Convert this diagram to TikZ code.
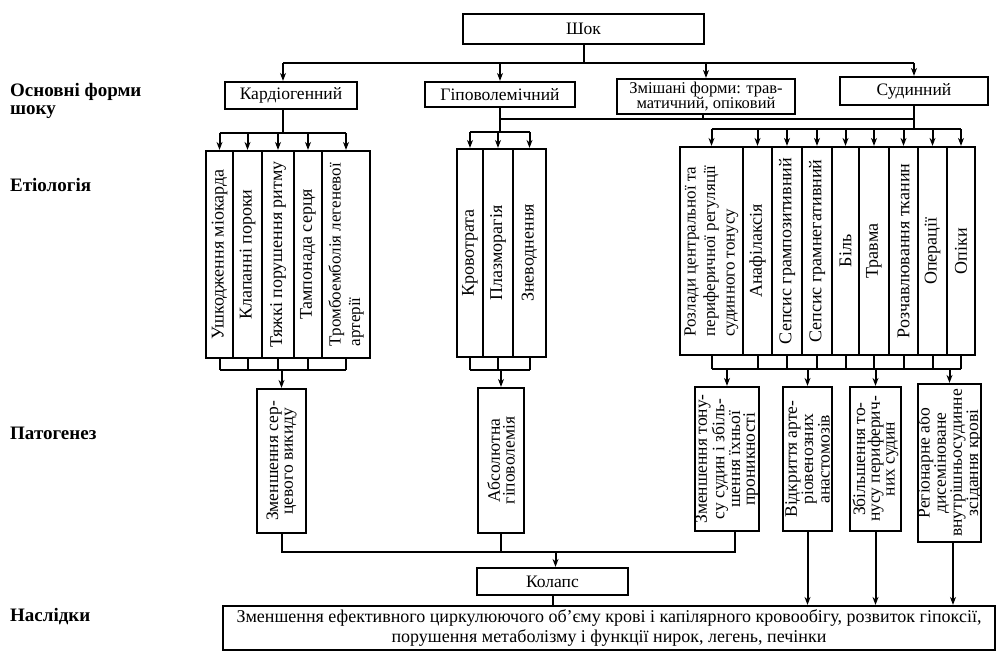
\documentclass[tikz,border=0pt]{standalone}
\usepackage{fontspec}
\setmainfont{Liberation Serif}
\usetikzlibrary{arrows.meta}
\newcommand\bxf{\fontsize{17.5}{18}\selectfont}
\newcommand\zmf{\fontsize{16.5}{13}\selectfont}
\newcommand\lblf{\bfseries\fontsize{19}{18}\selectfont}
\newcommand\vtf{\fontsize{18}{19.5}\selectfont}
\newcommand\vsf{\fontsize{17}{19.5}\selectfont}
\newcommand\ptf{\fontsize{17.5}{14.8}\selectfont}
\newcommand\nsf{\fontsize{18}{20}\selectfont}
\begin{document}
\begin{tikzpicture}[x=1pt,y=-1pt,
  box/.style={draw, line width=2.2pt, inner sep=0pt, font=\bxf},
  col/.style={draw, line width=2.2pt, inner sep=0pt},
  lab/.style={font=\lblf, anchor=west, align=left, inner sep=0pt},
  vt/.style={rotate=90, font=\vtf, align=left, inner sep=0pt},
  pt/.style={rotate=90, font=\ptf, align=center, inner sep=0pt},
  ln/.style={line width=2pt},
  arr/.style={line width=2pt, -{Stealth[length=8pt,width=6pt]}},
]
\useasboundingbox (0,0) rectangle (1005,665);

% left labels
\node[lab] (l1) at (10,101) {Основні форми\\шоку};
\node[lab] (l2) at (10,185) {Етіологія};
\node[lab] (l3) at (10,433) {Патогенез};
\node[lab] (l4) at (10,617) {Наслідки};

% top
\node[box, minimum width=241pt, minimum height=30pt] (shok) at (583.5,29) {Шок};
\node[box, minimum width=132pt, minimum height=27pt] (K) at (291,95.5) {Кардіогенний};
\node[box, minimum width=150pt, minimum height=25pt] (G) at (500,94.5) {Гіповолемічний};
\node[box, minimum width=178pt, minimum height=35pt, align=center, font=\zmf] (Z) at (706,96.5) {Змішані форми: трав-\\матичний, опіковий};
\node[box, minimum width=148pt, minimum height=28pt] (S) at (914,91) {Судинний};

\draw[ln] (shok.south) -- (shok.south |- 0,63);
\draw[ln] ([xshift=-8pt]K.north |- 0,63) -- (S.north |- 0,63);
\draw[arr] ([xshift=-8pt]K.north |- 0,63) -- ([xshift=-8pt]K.north);
\draw[arr] (G.north |- 0,63) -- (G.north);
\draw[arr] (Z.north |- 0,63) -- (Z.north);
\draw[arr] (S.north |- 0,63) -- (S.north);

% cardio etiology
\node[col, minimum width=27pt, minimum height=207pt] (c1) at (219.5,254.5) {};
\node[col, minimum width=29pt, minimum height=207pt] (c2) at (247.5,254.5) {};
\node[col, minimum width=32pt, minimum height=207pt] (c3) at (278,254.5) {};
\node[col, minimum width=28pt, minimum height=207pt] (c4) at (308,254.5) {};
\node[col, minimum width=48pt, minimum height=207pt] (c5) at (346,254.5) {};
\node[vt] (tc1) at (c1) {Ушкодження міокарда};
\node[vt] (tc2) at (c2) {Клапанні пороки};
\node[vt] (tc3) at (c3) {Тяжкі порушення ритму};
\node[vt] (tc4) at (c4) {Тампонада серця};
\node[vt, font=\vsf] (tc5) at (c5) {Тромбоемболія легеневої\\артерії};

\draw[ln] ([xshift=-8pt]K.south) -- ([xshift=-8pt]K.south |- 0,133);
\draw[ln] (c1.north |- 0,133) -- (c5.north |- 0,133);
\foreach \i in {1,...,5} \draw[arr] (c\i.north |- 0,133) -- (c\i.north);

% hypo etiology
\node[col, minimum width=26pt, minimum height=208pt] (h1) at (470,253) {};
\node[col, minimum width=30pt, minimum height=208pt] (h2) at (498,253) {};
\node[col, minimum width=33pt, minimum height=208pt] (h3) at (529.5,253) {};
\node[vt] (th1) at (h1) {Кровотрата};
\node[vt] (th2) at (h2) {Плазморагія};
\node[vt] (th3) at (h3) {Зневоднення};

\draw[ln] (G.south) -- (G.south |- 0,132);
\draw[ln] (h1.north |- 0,132) -- (h3.north |- 0,132);
\foreach \i in {1,...,3} \draw[arr] (h\i.north |- 0,132) -- (h\i.north);
\draw[ln] (G.south |- 0,119) -- (S.south |- 0,119);
\draw[ln] ([xshift=-3pt]Z.south) -- ([xshift=-3pt]Z.south |- 0,119);

% vascular etiology
\node[col, minimum width=63pt, minimum height=208pt] (v1) at (711.5,251) {};
\node[col, minimum width=29pt, minimum height=208pt] (v2) at (757.5,251) {};
\node[col, minimum width=30pt, minimum height=208pt] (v3) at (787,251) {};
\node[col, minimum width=30pt, minimum height=208pt] (v4) at (817,251) {};
\node[col, minimum width=27pt, minimum height=208pt] (v5) at (845.5,251) {};
\node[col, minimum width=30pt, minimum height=208pt] (v6) at (874,251) {};
\node[col, minimum width=29pt, minimum height=208pt] (v7) at (903.5,251) {};
\node[col, minimum width=29pt, minimum height=208pt] (v8) at (932.5,251) {};
\node[col, minimum width=28pt, minimum height=208pt] (v9) at (961,251) {};
\node[vt, font=\vsf] (tv1) at (v1) {Розлади центральної та\\периферичної регуляції\\судинного тонусу};
\node[vt] (tv2) at (v2) {Анафілаксія};
\node[vt] (tv3) at (v3) {Сепсис грампозитивний};
\node[vt] (tv4) at (v4) {Сепсис грамнегативний};
\node[vt] (tv5) at (v5) {Біль};
\node[vt] (tv6) at (v6) {Травма};
\node[vt] (tv7) at (v7) {Розчавлювання тканин};
\node[vt] (tv8) at (v8) {Операції};
\node[vt] (tv9) at (v9) {Опіки};

\draw[ln] (S.south) -- (S.south |- 0,129);
\draw[ln] (v1.north |- 0,129) -- (v9.north |- 0,129);
\foreach \i in {1,...,9} \draw[arr] (v\i.north |- 0,129) -- (v\i.north);

% brackets under etiology
\draw[ln] (c1.south |- 0,370) -- (c5.south |- 0,370);
\foreach \i in {1,...,5} \draw[ln] (c\i.south) -- (c\i.south |- 0,370);
\draw[ln] (h1.south |- 0,370) -- (h3.south |- 0,370);
\foreach \i in {1,...,3} \draw[ln] (h\i.south) -- (h\i.south |- 0,370);
\draw[ln] (v1.south |- 0,369) -- (v9.south |- 0,369);
\foreach \i in {1,...,9} \draw[ln] (v\i.south) -- (v\i.south |- 0,369);

% pathogenesis
\node[col, minimum width=49pt, minimum height=144pt] (P1) at (281.5,461) {};
\node[col, minimum width=46pt, minimum height=145pt] (P2) at (501,460.5) {};
\node[col, minimum width=64pt, minimum height=144pt] (P3) at (727,459) {};
\node[col, minimum width=49pt, minimum height=144pt] (P4) at (807.5,459) {};
\node[col, minimum width=51pt, minimum height=144pt] (P5) at (875.5,459) {};
\node[col, minimum width=63pt, minimum height=158pt] (P6) at (949.5,463) {};
\node[pt] (tp1) at (P1) {Зменшення сер-\\цевого викиду};
\node[pt] (tp2) at (P2) {Абсолютна\\гіповолемія};
\node[pt] (tp3) at (P3) {Зменшення тону-\\су судин і збіль-\\шення їхньої\\проникності};
\node[pt] (tp4) at (P4) {Відкриття арте-\\ріовенозних\\анастомозів};
\node[pt] (tp5) at (P5) {Збільшення то-\\нусу периферич-\\них судин};
\node[pt] (tp6) at (P6) {Регіонарне або\\дисеміноване\\внутрішньосудинне\\зсідання крові};

\draw[arr] (P1.north |- 0,370) -- (P1.north);
\draw[arr] (P2.north |- 0,370) -- (P2.north);
\foreach \i in {3,...,6} \draw[arr] (P\i.north |- 0,369) -- (P\i.north);

% collapse and consequences
\node[box, minimum width=151pt, minimum height=27pt] (kol) at (552.5,581.5) {Колапс};
\node[box, minimum width=772pt, minimum height=44pt, align=center, font=\nsf] (nas) at (609,628) {Зменшення ефективного циркулюючого об’єму крові і капілярного кровообігу, розвиток гіпоксії,\\порушення метаболізму і функції нирок, легень, печінки};

\draw[ln] (P1.south) -- (P1.south |- 0,552) -- ([xshift=8pt]P3.south |- 0,552) -- ([xshift=8pt]P3.south);
\draw[ln] (P2.south) -- (P2.south |- 0,552);
\draw[arr] ([xshift=3pt]kol.north |- 0,552) -- ([xshift=3pt]kol.north);
\draw[ln] (kol.south) -- (kol.south |- nas.north);
\draw[arr] (P4.south) -- (P4.south |- nas.north);
\draw[arr] (P5.south) -- (P5.south |- nas.north);
\draw[arr] ([xshift=3.5pt]P6.south) -- ([xshift=3.5pt]P6.south |- nas.north);
\end{tikzpicture}
\end{document}
